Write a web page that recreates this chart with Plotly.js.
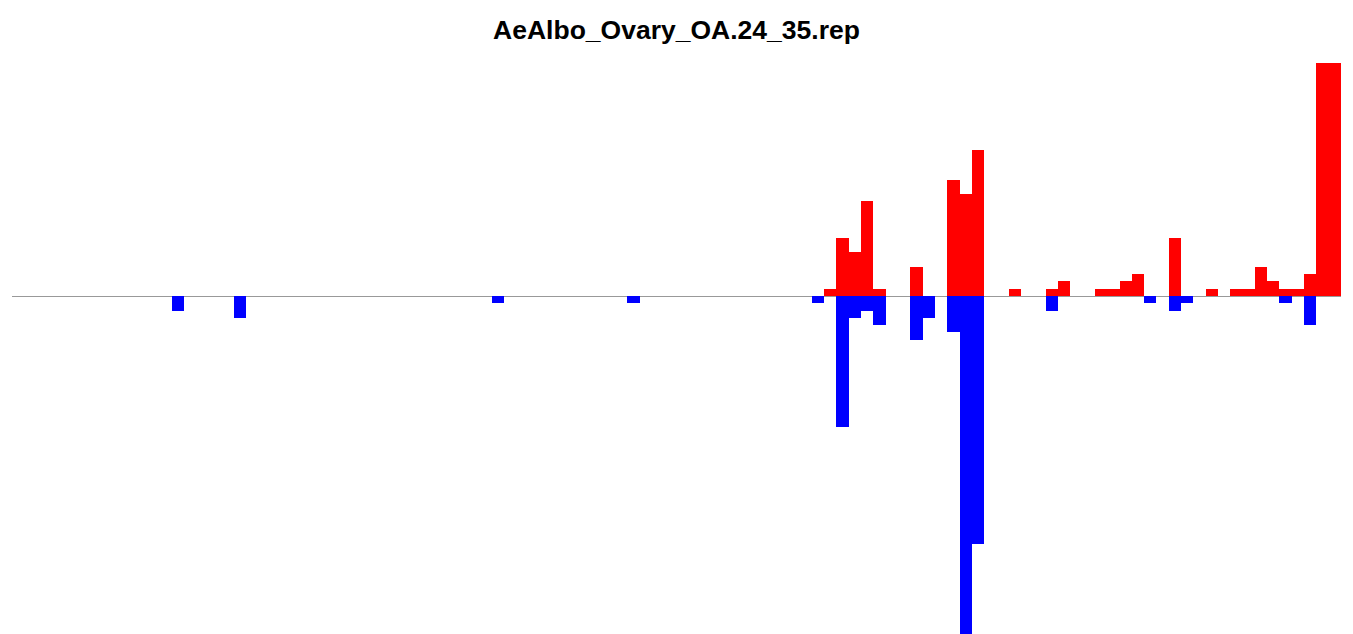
<!DOCTYPE html>
<html>
<head>
<meta charset="utf-8">
<script src="https://cdn.plot.ly/plotly-3.0.1.min.js"></script>
<style>html,body{margin:0;padding:0;background:#fff;}#chart{width:1353px;height:634px;}</style>
</head>
<body>
<div id="chart"></div>
<script>
// Bin indices (0..107) and values
const upBins   = [66, 67, 68, 69, 70, 73, 76, 77, 78, 81, 84, 85, 88, 89, 90, 91, 94, 97, 99, 100, 101, 102, 103, 104, 105, 106, 107];
const upValues = [1, 8, 6, 13, 1, 4, 16, 14, 20, 1, 1, 2, 1, 1, 2, 3, 8, 1, 1, 1, 4, 2, 1, 1, 3, 32, 32];
const downBins   = [13, 18, 39, 50, 65, 67, 68, 69, 70, 73, 74, 76, 77, 78, 84, 92, 94, 95, 103, 105];
const downValues = [-2, -3, -1, -1, -1, -18, -3, -2, -4, -6, -3, -5, -47, -34, -2, -1, -2, -1, -1, -4];
const nBins = 108;
const chartTitle = 'AeAlbo_Ovary_OA.24_35.rep';

const traces = [
  {type: 'bar', x: upBins, y: upValues, marker: {color: '#ff0000', line: {width: 0}}, hoverinfo: 'x+y', showlegend: false},
  {type: 'bar', x: downBins, y: downValues, marker: {color: '#0000ff', line: {width: 0}}, hoverinfo: 'x+y', showlegend: false}
];

const layout = {
  width: 1353, height: 634,
  margin: {l: 12, r: 12, t: 63, b: 0, pad: 0},
  paper_bgcolor: '#ffffff', plot_bgcolor: '#ffffff',
  barmode: 'relative', bargap: 0,
  title: {text: '<b>' + chartTitle + '</b>', x: 0.5, xanchor: 'center', y: 0.953, yref: 'container', yanchor: 'middle',
          font: {family: 'Liberation Sans, Arial, sans-serif', size: 26.5, color: '#000'}},
  xaxis: {range: [-0.5, nBins - 0.5], visible: false, showgrid: false, zeroline: false, fixedrange: true},
  yaxis: {range: [-46.4, 32], showgrid: false, showticklabels: false, ticks: '', showline: false,
          zeroline: true, zerolinecolor: '#999999', zerolinewidth: 1, fixedrange: true},
  showlegend: false
};

Plotly.newPlot('chart', traces, layout, {displayModeBar: false, staticPlot: true});
</script>
</body>
</html>
